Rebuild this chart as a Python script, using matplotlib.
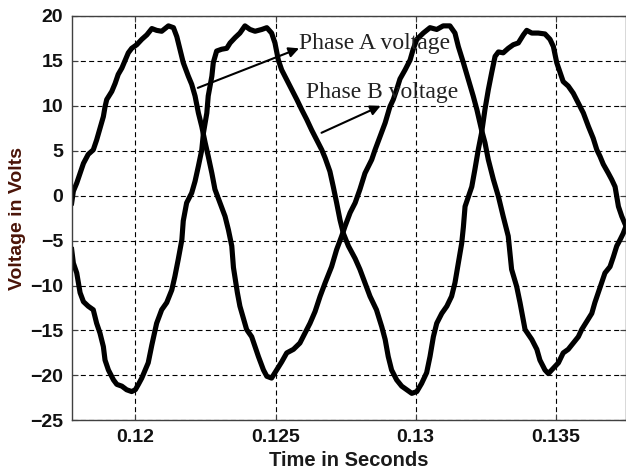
import matplotlib
matplotlib.use("Agg")
import matplotlib.pyplot as plt

# Phase A voltage
t_a = [0.11773, 0.11779, 0.11791, 0.11803, 0.11815, 0.11832, 0.11850, 0.11862, 0.11874, 0.11886,
       0.11892, 0.11898, 0.11916, 0.11928, 0.11939, 0.11952, 0.11963, 0.11975, 0.11987, 0.12005,
       0.12023, 0.12041, 0.12059, 0.12076, 0.12094, 0.12118, 0.12136, 0.12148, 0.12159, 0.12171,
       0.12189, 0.12201, 0.12213, 0.12225, 0.12237, 0.12249, 0.12260, 0.12273, 0.12284, 0.12302,
       0.12320, 0.12332, 0.12344, 0.12350, 0.12364, 0.12373, 0.12397, 0.12415, 0.12427, 0.12439,
       0.12457, 0.12469, 0.12486, 0.12504, 0.12522, 0.12540, 0.12564, 0.12587, 0.12605, 0.12623,
       0.12641, 0.12659, 0.12677, 0.12700, 0.12718, 0.12736, 0.12748, 0.12766, 0.12784, 0.12801,
       0.12819, 0.12843, 0.12855, 0.12873, 0.12891, 0.12908, 0.12920, 0.12932, 0.12944, 0.12962,
       0.12980, 0.12991, 0.13004, 0.13027, 0.13051, 0.13075, 0.13098, 0.13122, 0.13140, 0.13152,
       0.13170, 0.13188, 0.13205, 0.13218, 0.13235, 0.13247, 0.13259, 0.13277, 0.13295, 0.13312,
       0.13330, 0.13342, 0.13360, 0.13372, 0.13390, 0.13414, 0.13432, 0.13443, 0.13461, 0.13473,
       0.13491, 0.13509, 0.13526, 0.13544, 0.13562, 0.13580, 0.13592, 0.13610, 0.13628, 0.13639,
       0.13651, 0.13663, 0.13675, 0.13693, 0.13705, 0.13717, 0.13729, 0.13740, 0.13750]
v_a = [-0.8, 0.5, 1.4, 2.5, 3.6, 4.6, 5.1, 6.2, 7.5, 8.8,
       9.9, 10.7, 11.6, 12.5, 13.5, 14.2, 15.0, 15.9, 16.4, 16.8,
       17.4, 17.9, 18.6, 18.4, 18.3, 18.9, 18.7, 17.7, 16.3, 14.8,
       13.3, 12.4, 11.1, 9.2, 7.7, 5.9, 4.4, 2.5, 0.7, -0.8,
       -2.3, -3.8, -5.6, -8.0, -10.8, -12.3, -14.9, -15.7, -16.8, -17.9,
       -19.4, -20.1, -20.3, -19.4, -18.5, -17.5, -17.1, -16.4, -15.3, -14.2,
       -12.9, -11.2, -9.7, -7.9, -6.0, -4.5, -3.4, -1.9, -0.8, 0.7,
       2.5, 4.0, 5.1, 6.6, 8.1, 9.9, 10.7, 11.8, 13.0, 14.0,
       15.1, 16.3, 17.4, 18.1, 18.7, 18.5, 18.9, 18.9, 18.1, 16.6,
       14.8, 12.9, 11.1, 9.6, 7.3, 5.9, 4.0, 1.8, -0.1, -2.3,
       -4.5, -8.2, -10.1, -11.9, -14.9, -16.0, -17.1, -18.3, -19.4, -19.8,
       -19.2, -18.6, -17.5, -17.1, -16.4, -15.7, -14.9, -14.0, -13.1, -11.9,
       -10.8, -9.7, -8.6, -7.9, -6.8, -5.6, -4.9, -4.2, -3.4]

# Phase B voltage
t_b = [0.11773, 0.11779, 0.11791, 0.11797, 0.11803, 0.11815, 0.11832, 0.11850, 0.11862, 0.11874,
       0.11886, 0.11892, 0.11904, 0.11922, 0.11934, 0.11952, 0.11969, 0.11987, 0.12000, 0.12011,
       0.12023, 0.12035, 0.12046, 0.12059, 0.12076, 0.12094, 0.12112, 0.12130, 0.12141, 0.12153,
       0.12166, 0.12171, 0.12183, 0.12201, 0.12213, 0.12225, 0.12237, 0.12243, 0.12255, 0.12260,
       0.12273, 0.12278, 0.12290, 0.12308, 0.12326, 0.12338, 0.12356, 0.12373, 0.12391, 0.12409,
       0.12427, 0.12451, 0.12469, 0.12486, 0.12498, 0.12510, 0.12522, 0.12540, 0.12558, 0.12576,
       0.12593, 0.12611, 0.12629, 0.12647, 0.12665, 0.12677, 0.12694, 0.12706, 0.12718, 0.12730,
       0.12742, 0.12760, 0.12784, 0.12801, 0.12819, 0.12837, 0.12860, 0.12879, 0.12891, 0.12902,
       0.12914, 0.12932, 0.12950, 0.12968, 0.12986, 0.13004, 0.13021, 0.13039, 0.13051, 0.13063,
       0.13075, 0.13093, 0.13111, 0.13128, 0.13140, 0.13152, 0.13164, 0.13170, 0.13176, 0.13188,
       0.13200, 0.13211, 0.13223, 0.13235, 0.13247, 0.13259, 0.13271, 0.13283, 0.13295, 0.13312,
       0.13330, 0.13348, 0.13366, 0.13384, 0.13396, 0.13414, 0.13437, 0.13461, 0.13479, 0.13491,
       0.13503, 0.13515, 0.13526, 0.13544, 0.13562, 0.13580, 0.13598, 0.13616, 0.13633, 0.13646,
       0.13657, 0.13669, 0.13687, 0.13699, 0.13711, 0.13717, 0.13723, 0.13735, 0.13750]
v_b = [-6.0, -7.5, -8.6, -9.7, -10.8, -11.8, -12.3, -12.7, -14.2, -15.3,
       -16.8, -18.3, -19.4, -20.5, -21.0, -21.2, -21.6, -21.8, -21.6, -21.0,
       -20.3, -19.4, -18.6, -16.6, -14.2, -12.7, -11.9, -10.5, -9.0, -7.1,
       -4.9, -2.8, -0.8, 0.3, 1.6, 3.3, 5.1, 7.0, 9.2, 11.1,
       13.3, 14.8, 16.1, 16.3, 16.4, 17.0, 17.6, 18.1, 18.9, 18.5,
       18.3, 18.5, 18.7, 18.1, 17.0, 15.1, 14.0, 12.9, 11.8, 10.7,
       9.6, 8.5, 7.3, 6.2, 5.1, 4.2, 2.7, 1.0, -0.8, -2.7,
       -4.2, -5.6, -7.0, -8.2, -9.7, -11.2, -12.7, -14.6, -16.0, -17.9,
       -19.4, -20.5, -21.2, -21.6, -22.0, -21.8, -20.9, -19.7, -17.9, -15.7,
       -14.2, -13.1, -12.3, -11.2, -9.7, -7.5, -5.3, -3.5, -1.2, -0.1,
       1.0, 2.9, 5.1, 7.0, 9.6, 11.8, 13.7, 15.5, 16.0, 15.9,
       16.4, 16.8, 17.0, 17.9, 18.4, 18.1, 18.1, 18.0, 17.4, 16.6,
       14.8, 13.7, 12.7, 12.2, 11.4, 10.3, 9.2, 7.7, 6.4, 5.1,
       4.4, 3.5, 2.5, 1.8, 1.0, -0.1, -1.2, -2.3, -3.4]

x_ticks = [0.12, 0.125, 0.13, 0.135]
x_ticklabels = ["0.12", "0.125", "0.13", "0.135"]
y_ticks = [-25, -20, -15, -10, -5, 0, 5, 10, 15, 20]

fig = plt.figure(figsize=(6.26, 4.73), dpi=100)
ax = fig.add_axes([0.1145, 0.1114, 0.8855, 0.8548])

ax.plot(t_a, v_a, color="black", lw=3.7, solid_joinstyle="round")
ax.plot(t_b, v_b, color="black", lw=3.7, solid_joinstyle="round")

ax.set_xlim(0.11773, 0.13750)
ax.set_ylim(-25, 20)
ax.set_xticks(x_ticks)
ax.set_xticklabels(x_ticklabels)
ax.set_yticks(y_ticks)

ax.grid(True, color="black", linestyle=(0, (4.5, 3)), linewidth=0.8)
ax.tick_params(direction="in", top=True, right=True, length=4, width=0.8,
               color="#404040", pad=6)
for lab in ax.get_xticklabels() + ax.get_yticklabels():
    lab.set_fontfamily("Liberation Sans")
    lab.set_fontweight("bold")
    lab.set_fontsize(14)
    lab.set_color("#111111")
for sp in ax.spines.values():
    sp.set_color("#404040")
    sp.set_linewidth(1.0)

ax.set_xlabel("Time in Seconds", fontfamily="Liberation Sans", fontweight="bold",
              fontsize=14.5, color="#1a1a1a", labelpad=4)
ax.set_ylabel("Voltage in Volts", fontfamily="Liberation Sans", fontweight="bold",
              fontsize=14, color="#4a1408", labelpad=3)

# labels with arrows
arrow = dict(arrowstyle="-|>", color="black", lw=1.5, mutation_scale=15,
             shrinkA=0, shrinkB=0)
ax.annotate("", xy=(0.12584, 16.4), xytext=(0.12223, 12.0), arrowprops=arrow)
ax.text(0.12583, 16.9, "Phase A voltage", fontfamily="Liberation Serif",
        fontsize=17, color="#222222", va="center", ha="left")
ax.annotate("", xy=(0.12875, 10.0), xytext=(0.12664, 7.0), arrowprops=arrow)
ax.text(0.12607, 11.5, "Phase B voltage", fontfamily="Liberation Serif",
        fontsize=17, color="#222222", va="center", ha="left")

plt.savefig("out.png", dpi=100)
